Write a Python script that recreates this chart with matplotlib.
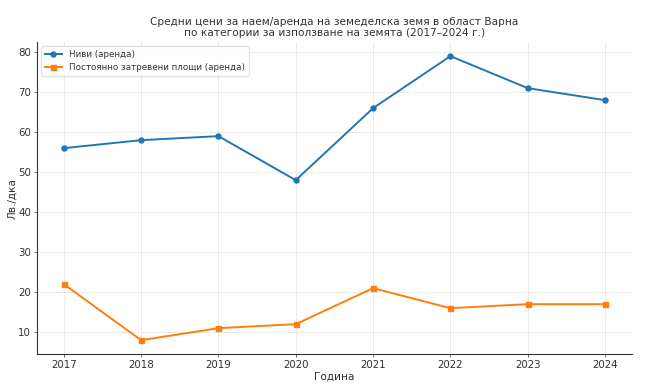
import matplotlib
matplotlib.use("Agg")
import matplotlib.pyplot as plt

years = [2017, 2018, 2019, 2020, 2021, 2022, 2023, 2024]
nivi = [56, 58, 59, 48, 66, 79, 71, 68]
trajni = [22, 8, 11, 12, 21, 16, 17, 17]

plt.rcParams['text.color'] = '#333333'
plt.rcParams['axes.labelcolor'] = '#333333'
plt.rcParams['xtick.color'] = '#333333'
plt.rcParams['ytick.color'] = '#333333'

fig, ax = plt.subplots(figsize=(6.45, 3.92), dpi=100)
fig.subplots_adjust(left=0.057, right=0.98, top=0.893, bottom=0.096)

ax.plot(years, nivi, marker='o', markersize=3.6, linewidth=1.4, color='#1f77b4', label='Ниви (аренда)')
ax.plot(years, trajni, marker='s', markersize=3.6, linewidth=1.4, color='#ff7f0e', label='Постоянно затревени площи (аренда)')

ax.set_title('Средни цени за наем/аренда на земеделска земя в област Варна\nпо категории за използване на земята (2017–2024 г.)', fontsize=7.6, pad=4)
ax.set_xlabel('Година', fontsize=7.6, labelpad=1)
ax.set_ylabel('Лв./дка', fontsize=7.6, labelpad=1)
ax.set_xticks(years)
ax.tick_params(labelsize=7.4, length=2.5, width=0.6, pad=1.5, color='#555555')
ax.grid(True, color='#e6e6e6', linewidth=0.6)
ax.set_axisbelow(True)
for s in ['top', 'right']:
    ax.spines[s].set_visible(False)
for s in ['left', 'bottom']:
    ax.spines[s].set_color('#333333')
    ax.spines[s].set_linewidth(0.8)

ax.legend(loc='upper left', fontsize=6.3, frameon=True, framealpha=0.8, edgecolor='#dddddd')

fig.savefig('out.png')
